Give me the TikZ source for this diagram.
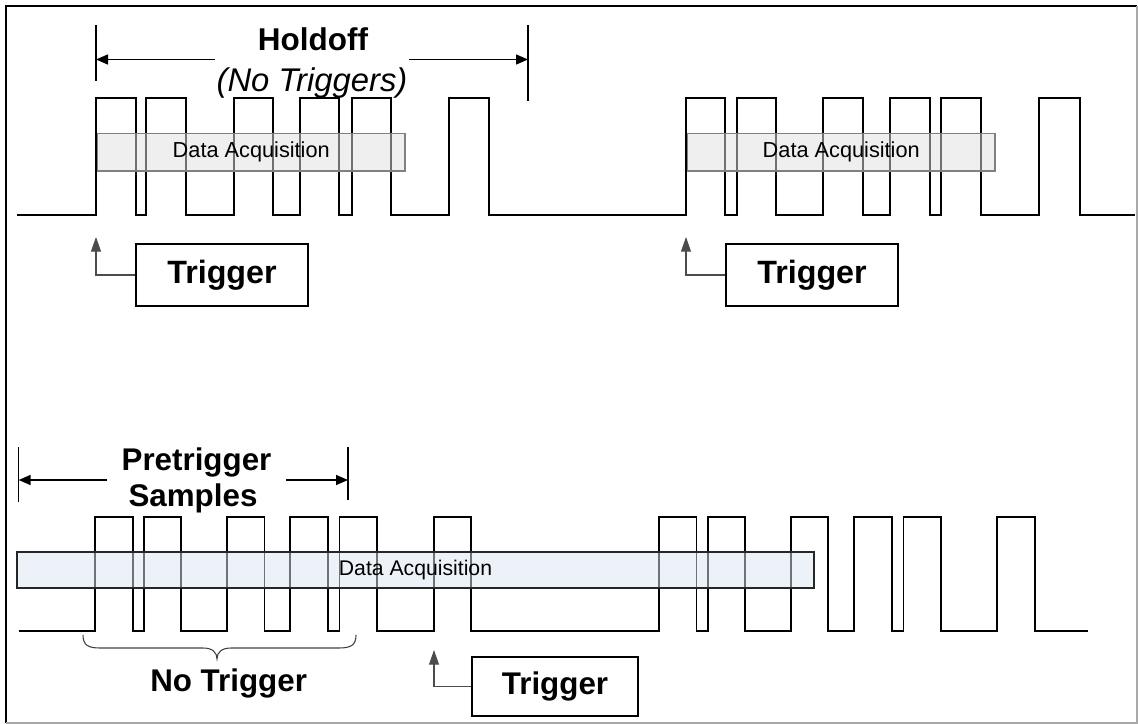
\documentclass[tikz,border=0pt]{standalone}
\usepackage{fontspec}
\setmainfont{Liberation Sans}
\usetikzlibrary{arrows.meta}
\definecolor{acqgray}{HTML}{E0E0E0}
\definecolor{acqgrayline}{HTML}{808080}
\definecolor{acqblue}{HTML}{DCE6F4}
\definecolor{acqblueline}{HTML}{262626}
\definecolor{frameshade}{HTML}{A8A8A8}
\begin{document}
\begin{tikzpicture}[x=0.75pt,y=-0.75pt,
  signal/.style={line width=1.4pt, line join=miter},
  acqtop/.style={draw=acqgrayline, line width=0.8pt, fill=acqgray, fill opacity=0.5, text opacity=1,
     minimum width=230.6pt, minimum height=28.1pt, inner sep=0pt, font=\fontsize{16.3}{18}\selectfont},
  acqbot/.style={draw=acqblueline, line width=0.8pt, fill=acqblue, fill opacity=0.5, text opacity=1,
     minimum width=597.75pt, minimum height=27pt, inner sep=0pt, font=\fontsize{15.9}{18}\selectfont},
  trigbox/.style={draw, line width=1pt, fill=white, inner sep=0pt, font=\bfseries\fontsize{24.2}{28}\selectfont,
     minimum width=129pt, minimum height=46.5pt},
  trigarrow/.style={draw=black!70, line width=0.8pt, -{Triangle[length=11pt,width=7.5pt]}},
  dimarrow/.style={line width=1.1pt, -{Triangle[length=9pt,width=7.5pt]}},
  ticks/.style={line width=1.1pt},
  bigbold/.style={font=\bfseries\fontsize{23.5}{28}\selectfont, inner sep=0pt, anchor=base},
]
\useasboundingbox (0,0) rectangle (1138,724);
% frame
\draw[black, line width=1.6pt] (6,723) -- (6,6) -- (1137,6);
\draw[frameshade, line width=1.6pt] (1137,6) -- (1137,723) -- (6,723);

% ---------------- top signal ----------------
\draw[signal] (17,215) -| (96,98) -| (136,215) -| (146,98) -| (186,215) -| (234,98) -| (273,215)
  -| (300,98) -| (339,215) -| (352,98) -| (391,215) -| (449,98) -| (489,215)
  -| (686,98) -| (725,215) -| (737,98) -| (776,215) -| (823,98) -| (863,215)
  -| (890,98) -| (930,215) -| (941,98) -| (981,215) -| (1039,98) -| (1080,215) -- (1135,215);

\node[acqtop] (acq1) at (251.25,152.25) {Data Acquisition};
\node[acqtop] (acq2) at (841.25,152.25) {Data Acquisition};

% holdoff
\node[bigbold, font=\bfseries\fontsize{23.6}{28}\selectfont] (hold1) at (313,51) {Holdoff};
\node[inner sep=0pt, inner xsep=1pt, anchor=base, font=\itshape\fontsize{24.6}{28}\selectfont] (hold2) at (312,91) {(No Triggers)};
\coordinate (hlt) at (96,25);
\coordinate (hlb) at (96,81);
\coordinate (hrt) at (528,25);
\coordinate (hrb) at (528,101);
\coordinate (hla) at (96,59.5);
\coordinate (hra) at (528,59.5);
\draw[ticks] (hlt) -- (hlb);
\draw[ticks] (hrt) -- (hrb);
\draw[dimarrow] (hold2.west |- hla) -- (hla);
\draw[dimarrow] (hold2.east |- hra) -- (hra);

% triggers top
\node[trigbox] (trig1) at (222,275) {Trigger};
\node[trigbox] (trig2) at (812,275) {Trigger};
\coordinate (tip1) at (96,237);
\coordinate (tip2) at (686,237);
\draw[trigarrow] (trig1.west) -| (tip1);
\draw[trigarrow] (trig2.west) -| (tip2);

% ---------------- bottom signal ----------------
\draw[signal] (18.6,631) -| (94.6,517) -| (133,631) -| (143.6,517) -| (181,631) -| (227,517) -| (264.5,631)
  -| (290,517) -| (328,631) -| (339.5,517) -| (377,631) -| (434,517) -| (471,631)
  -| (659,517) -| (696.5,631) -| (708,517) -| (745,631) -| (790.6,517) -| (828,631)
  -| (854,517) -| (892,631) -| (903.5,517) -| (941,631) -| (997,517) -| (1035,631) -- (1088,631);

\node[acqbot] (acq3) at (415.5,570) {Data Acquisition};

% pretrigger samples
\node[bigbold, inner xsep=10.9pt] (pre1) at (196.5,470.5) {Pretrigger};
\node[bigbold] (pre2) at (193,506) {Samples};
\coordinate (plt) at (18.6,447);
\coordinate (plb) at (18.6,502);
\coordinate (prt) at (348,447);
\coordinate (prb) at (348,500);
\coordinate (pla) at (18.6,480);
\coordinate (pra) at (348,480);
\draw[ticks] (plt) -- (plb);
\draw[ticks] (prt) -- (prb);
\draw[dimarrow] (pre1.west |- pla) -- (pla);
\draw[dimarrow] (pre1.east |- pra) -- (pra);

% brace
\draw[black!75, line width=0.8pt] (83,635) .. controls (83,645) and (88,648) .. (100,648) -- (203,648)
  .. controls (212,648) and (217,652) .. (217,659)
  .. controls (217,652) and (222,648) .. (231,648) -- (339,648)
  .. controls (351,648) and (356,645) .. (356,635);
\node[bigbold] (notrig) at (228.6,691) {No Trigger};

% bottom trigger
\node[trigbox, font=\bfseries\fontsize{23.5}{28}\selectfont, minimum width=124.5pt, minimum height=44.25pt] (trig3) at (555,686.5) {Trigger};
\coordinate (tip3) at (434,650);
\draw[trigarrow] (trig3.west) -| (tip3);
\end{tikzpicture}
\end{document}
